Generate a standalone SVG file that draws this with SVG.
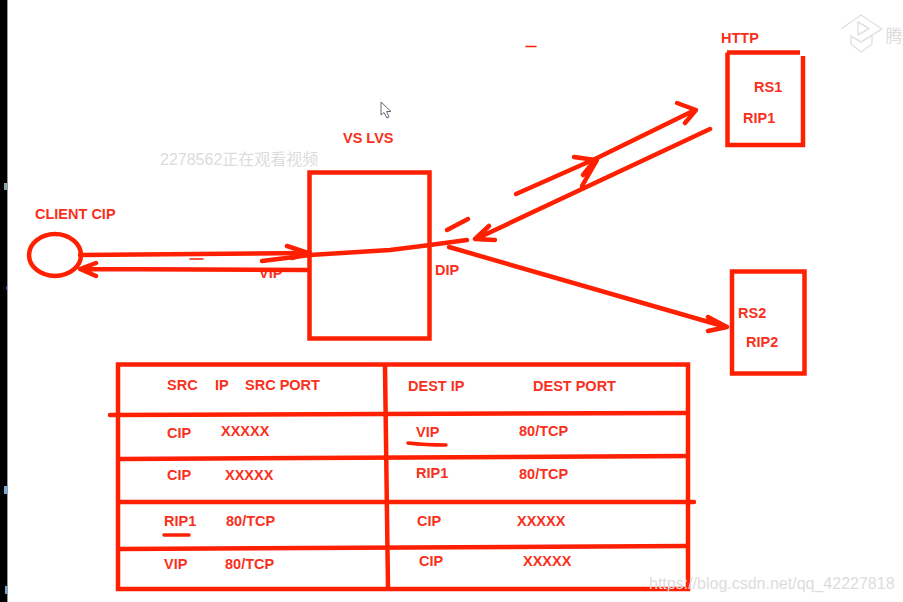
<svg xmlns="http://www.w3.org/2000/svg" width="903" height="602" viewBox="0 0 903 602">
<style>
.t{font-family:"Liberation Sans",Arial,sans-serif;font-weight:700;font-size:14.500px;fill:#f8301c}
.l{fill:none;stroke:#fe2000;stroke-width:4.500;stroke-linecap:round;stroke-linejoin:round}
.s{fill:none;stroke:#fe2000;stroke-width:3.500;stroke-linecap:round;stroke-linejoin:round}
.b{fill:none;stroke:#fe2000;stroke-width:4.500}
.w{font-family:"Liberation Sans",Arial,sans-serif;fill:#dcdcdc}
.g{fill:none;stroke:#e2e2e2;stroke-width:1.500;stroke-linejoin:round}
</style>
<rect width="903" height="602" fill="#fff"/>
<rect width="7" height="602" fill="#000"/>
<rect x="7" width="1" height="602" fill="#999"/>
<rect x="4" y="183" width="3" height="7" fill="#8aa"/>
<rect x="6" y="286" width="1" height="4" fill="#24c"/>
<rect x="4" y="486" width="3" height="8" fill="#7ad"/>
<rect x="5" y="586" width="2" height="8" fill="#7ad"/>
<g id="client"><ellipse cx="55" cy="255" rx="26" ry="21" class="l"/><text class="t" x="35" y="219">CLIENT CIP</text></g>
<g id="lvs"><rect x="309.500" y="172.500" width="120" height="166" class="b"/><text class="t" x="343" y="143">VS LVS</text><text class="t" x="259" y="278">VIP</text><text class="t" x="435" y="275">DIP</text></g>
<g id="rs1"><path class="b" d="M727.500 52.500V145H803V56M727 52.500H800"/><text class="t" x="754" y="92">RS1</text><text class="t" x="743" y="123">RIP1</text><text class="t" x="721" y="43">HTTP</text></g>
<g id="rs2"><rect x="732" y="271.500" width="72.500" height="102" class="b"/><text class="t" x="738" y="318">RS2</text><text class="t" x="746" y="347">RIP2</text></g>
<g id="connectors">
<path class="l" d="M80 255L310 253M287 246L308 253L292 258"/>
<path class="l" d="M307 270L82 269M96 263L80 269L96 276"/>
<path class="l" d="M262 261L310 255L390 250L430 245L467 240"/>
<path class="l" d="M447 230L468 219"/>
<path class="l" d="M516 194L595 159L695 110M677 103L696 110L685 123"/>
<path class="l" d="M710 129L480 237M489 226L475 239L495 240"/>
<path class="l" d="M574 157L595 160L583 175M597 160L582 186"/>
<path class="l" d="M449 247L726 327M708 317L727 327L708 331"/>
<path class="s" d="M190 259H203M526 46.500H536" style="stroke-width:1.500"/>
</g>
<g id="table">
<rect x="118" y="364.500" width="570" height="224.500" class="b"/>
<path class="l" d="M110 415L687 413M120 459L687 456M120 502L694 502M120 549L687 546"/>
<path class="l" d="M385 366L388 588"/>
<path class="s" d="M408 443Q425 445 446 445M164 535H189"/>
<text class="t" x="167" y="390">SRC</text><text class="t" x="215" y="390">IP</text><text class="t" x="245" y="390">SRC PORT</text>
<text class="t" x="408" y="391">DEST IP</text><text class="t" x="533" y="391">DEST PORT</text>
<text class="t" x="167" y="438">CIP</text><text class="t" x="221" y="436">XXXXX</text><text class="t" x="416" y="437">VIP</text><text class="t" x="519" y="436">80/TCP</text>
<text class="t" x="167" y="480">CIP</text><text class="t" x="225" y="480">XXXXX</text><text class="t" x="416" y="478">RIP1</text><text class="t" x="519" y="479">80/TCP</text>
<text class="t" x="164" y="526">RIP1</text><text class="t" x="226" y="526">80/TCP</text><text class="t" x="417" y="526">CIP</text><text class="t" x="517" y="526">XXXXX</text>
<text class="t" x="164" y="569">VIP</text><text class="t" x="225" y="569">80/TCP</text><text class="t" x="419" y="566">CIP</text><text class="t" x="523" y="566">XXXXX</text>
</g>
<path d="M381 102V115L384 112.500L387 118L389 117L386.500 111.500H391Z" fill="#fff" stroke="#667" stroke-width="1"/>
<path class="g" d="M841 29L861 15L882 29L861 42L851 36V44M851 44L861 52L872 44V36"/>
<path class="g" d="M858 22V35L869 28.500Z"/>
<text class="w" x="885.500" y="42" font-size="17" style="font-family:'Noto Sans CJK SC',sans-serif">腾</text>
<text class="w" x="160" y="165" font-size="16">2278562<tspan style="font-family:'Noto Sans CJK SC',sans-serif">正在观看视频</tspan></text>
<text class="w" x="649" y="589" font-size="16">https://blog.csdn.net/qq_42227818</text>
</svg>
